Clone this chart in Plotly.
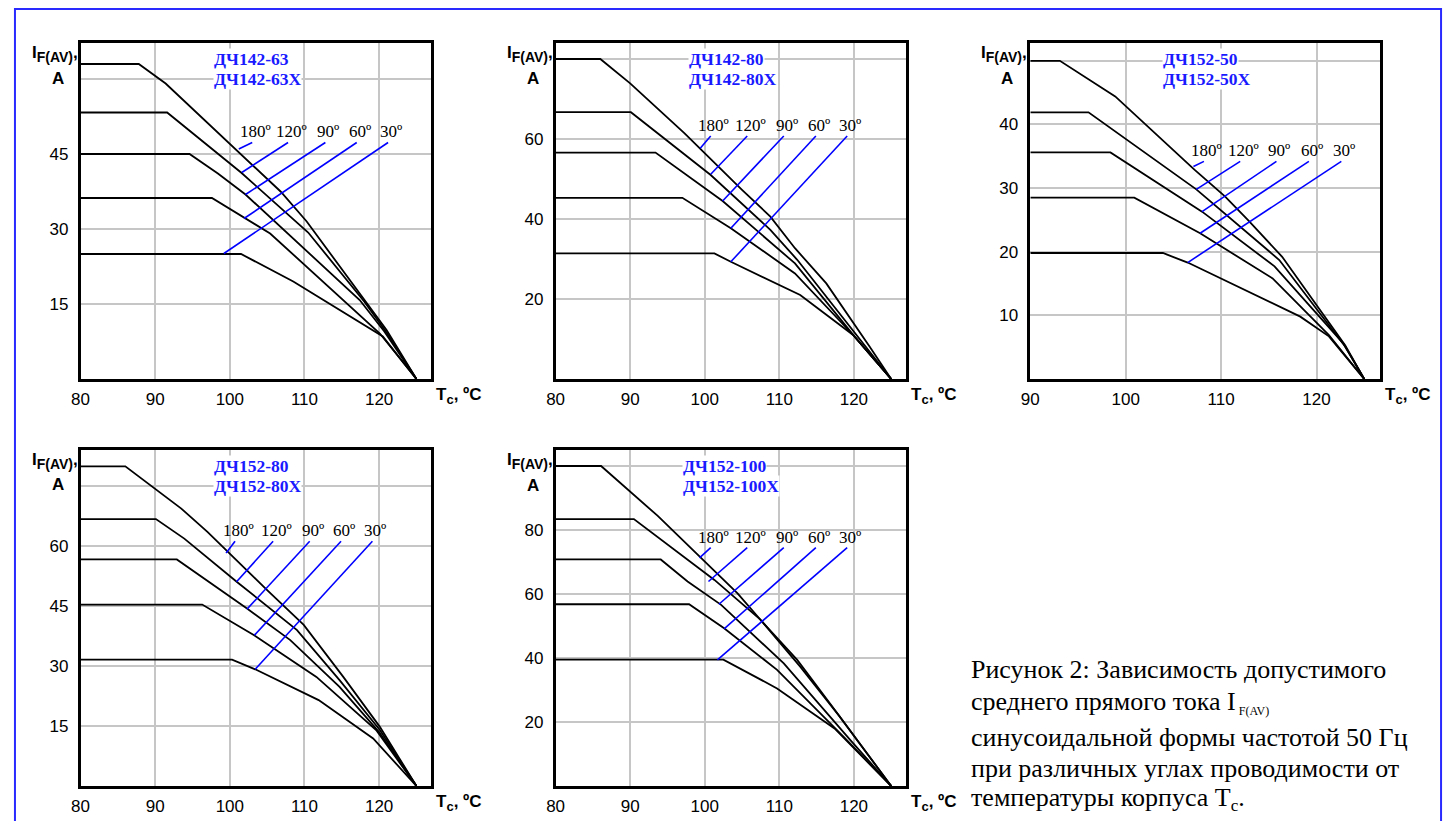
import plotly.graph_objects as go

W, H = 1449, 821

# ---------------- data ----------------
ANGLES = ["180º", "120º", "90º", "60º", "30º"]
X_TICKS_A = [80, 90, 100, 110, 120]
X_TICKS_B = [90, 100, 110, 120]

# Panel 1: ДЧ142-63
P1_T180 = [80, 87.8, 91.4, 98.8, 106.8, 110.3, 117.4, 121.0, 125]
P1_I180 = [63, 63, 59.1, 48.8, 37.5, 31.5, 17.1, 9.8, 0]
P1_T120 = [80, 91.6, 101.5, 107.0, 110.5, 118.0, 121.0, 125]
P1_I120 = [53.3, 53.3, 41.3, 34.0, 29.3, 15.5, 9.3, 0]
P1_T90 = [80, 94.6, 98.4, 102.1, 117.4, 120.7, 125]
P1_I90 = [45, 45, 41.1, 36.9, 15.8, 9.5, 0]
P1_T60 = [80, 97.6, 105.4, 120.1, 125]
P1_I60 = [36.2, 36.2, 29.1, 9.1, 0]
P1_T30 = [80, 101.5, 108.5, 120.5, 125]
P1_I30 = [25, 25, 19.5, 8.5, 0]
P1_Y_TICKS = [15, 30, 45]
P1_Y_GRID_EXTRA = [60]
P1_LEAD_T0 = [103.0, 107.8, 112.8, 117.0, 121.2]
P1_LEAD_I0 = [47.3, 47.3, 47.3, 47.3, 47.3]
P1_LEAD_T1 = [101.2, 101.6, 102.1, 101.9, 99.2]
P1_LEAD_I1 = [46.0, 41.3, 36.9, 32.1, 25.1]

# Panel 2: ДЧ142-80
P2_T180 = [80, 86.0, 90.0, 97.3, 105.0, 108.8, 112.1, 116.3, 122.1, 125]
P2_I180 = [80, 80, 73.9, 61.4, 47.3, 40.6, 32.7, 23.9, 8.1, 0]
P2_T120 = [80, 90.1, 100.8, 108.8, 112.4, 120.8, 125]
P2_I120 = [66.7, 66.7, 51.0, 37.3, 29.8, 9.8, 0]
P2_T90 = [80, 93.4, 102.4, 112.1, 120.1, 125]
P2_I90 = [56.6, 56.6, 44.5, 28.9, 10.6, 0]
P2_T60 = [80, 97.0, 103.5, 112.1, 119.9, 125]
P2_I60 = [45.3, 45.3, 37.7, 26.4, 11.0, 0]
P2_T30 = [80, 101.3, 103.5, 112.8, 119.9, 125]
P2_I30 = [31.4, 31.4, 29.3, 21.0, 11.0, 0]
P2_Y_TICKS = [20, 40, 60]
P2_Y_GRID_EXTRA = [80]
P2_LEAD_T0 = [100.8, 105.7, 110.6, 114.9, 119.1]
P2_LEAD_I0 = [60.75, 60.75, 60.75, 60.75, 60.75]
P2_LEAD_T1 = [99.4, 100.8, 102.4, 103.5, 103.5]
P2_LEAD_I1 = [57.7, 51.2, 44.5, 37.7, 29.3]

# Panel 3: ДЧ152-50
P3_T180 = [90, 93.1, 98.9, 101.9, 107.2, 110.4, 112.8, 116.4, 123.0, 125]
P3_I180 = [50, 50, 44.4, 40.2, 32.9, 28.7, 25.0, 19.2, 5.3, 0]
P3_T120 = [90, 96.1, 107.4, 116.1, 123.0, 125]
P3_I120 = [41.9, 41.9, 29.8, 18.7, 5.1, 0]
P3_T90 = [90, 98.4, 108.0, 115.6, 122.8, 125]
P3_I90 = [35.6, 35.6, 26.3, 17.7, 5.6, 0]
P3_T60 = [90, 100.9, 107.8, 115.4, 121.3, 125]
P3_I60 = [28.5, 28.5, 22.9, 15.8, 6.9, 0]
P3_T30 = [90, 103.9, 106.5, 118.3, 121.3, 125]
P3_I30 = [19.8, 19.8, 18.3, 9.8, 6.7, 0]
P3_Y_TICKS = [10, 20, 30, 40]
P3_Y_GRID_EXTRA = [50]
P3_LEAD_T0 = [108.2, 112.0, 115.8, 119.2, 122.6]
P3_LEAD_I0 = [34.2, 34.2, 34.2, 34.2, 34.2]
P3_LEAD_T1 = [107.1, 107.4, 108.0, 107.8, 106.5]
P3_LEAD_I1 = [33.4, 29.8, 26.3, 22.9, 18.3]

# Panel 4: ДЧ152-80
P4_T180 = [80, 86.0, 93.5, 97.0, 105.0, 109.9, 115.2, 120.1, 125]
P4_I180 = [80, 80, 69.4, 63.6, 49.0, 40.3, 27.3, 14.8, 0]
P4_T120 = [80, 90.1, 93.9, 101.0, 109.0, 114.7, 120.1, 125]
P4_I120 = [66.8, 66.8, 61.9, 51.0, 39.0, 26.5, 14.0, 0]
P4_T90 = [80, 92.9, 102.3, 108.1, 114.7, 120.0, 125]
P4_I90 = [56.7, 56.7, 44.4, 36.5, 24.8, 13.5, 0]
P4_T60 = [80, 96.3, 103.2, 111.6, 119.6, 125]
P4_I60 = [45.4, 45.4, 37.8, 27.3, 14.0, 0]
P4_T30 = [80, 100.3, 103.4, 111.9, 119.2, 125]
P4_I30 = [31.6, 31.6, 29.2, 21.5, 11.9, 0]
P4_Y_TICKS = [15, 30, 45, 60]
P4_Y_GRID_EXTRA = [75]
P4_LEAD_T0 = [100.7, 105.8, 110.7, 114.9, 119.1]
P4_LEAD_I0 = [61.25, 61.25, 61.25, 61.25, 61.25]
P4_LEAD_T1 = [99.5, 100.9, 102.3, 103.3, 103.4]
P4_LEAD_I1 = [58.3, 51.1, 44.25, 37.75, 29.2]

# Panel 5: ДЧ152-100
P5_T180 = [80, 86.1, 93.7, 101.7, 104.4, 107.9, 112.4, 116.8, 122.1, 125]
P5_I180 = [100, 100, 84.4, 66.5, 60.2, 50.8, 39.4, 25.8, 9.2, 0]
P5_T120 = [80, 90.5, 101.3, 107.5, 112.8, 118.0, 125]
P5_I120 = [83.4, 83.4, 64.4, 51.9, 37.3, 22.0, 0]
P5_T90 = [80, 94.1, 97.7, 102.2, 110.6, 119.5, 125]
P5_I90 = [70.8, 70.8, 63.9, 56.6, 38.3, 14.4, 0]
P5_T60 = [80, 97.9, 102.6, 109.7, 118.6, 125]
P5_I60 = [56.8, 56.8, 49.3, 36.3, 15.4, 0]
P5_T30 = [80, 102.5, 109.7, 117.4, 125]
P5_I30 = [39.5, 39.5, 30.5, 18.0, 0]
P5_Y_TICKS = [20, 40, 60, 80]
P5_Y_GRID_EXTRA = [100]
P5_LEAD_T0 = [100.8, 105.7, 110.6, 114.9, 119.1]
P5_LEAD_I0 = [74.5, 74.5, 74.5, 74.5, 74.5]
P5_LEAD_T1 = [99.3, 100.5, 101.9, 102.6, 101.7]
P5_LEAD_I1 = [71.3, 63.9, 56.8, 49.1, 39.4]

DEVICES = [("ДЧ142-63", "ДЧ142-63X"), ("ДЧ142-80", "ДЧ142-80X"), ("ДЧ152-50", "ДЧ152-50X"),
           ("ДЧ152-80", "ДЧ152-80X"), ("ДЧ152-100", "ДЧ152-100X")]

CAPTION_LINES = [
    "Рисунок 2: Зависимость допустимого",
    "среднего прямого тока I<sub><span style=\"font-size:12px\"> F(AV)</span></sub>",
    "синусоидальной формы частотой 50 Гц",
    "при различных углах проводимости от",
    "температуры корпуса T<sub><span style=\"font-size:17px\">c</span></sub>.",
]

# ---------------- layout / styling ----------------
SANS = "Liberation Sans, Arial, sans-serif"
SERIF = "Liberation Serif, Times New Roman, serif"
BLUE = "#0000FF"
LABEL_BLUE = "#1a1aff"
GRID = "#c6c6c6"

PANELS = [
    dict(box=(72, 43, 425, 379), xr=[80, 127], yr=[0, 67.2], xt=X_TICKS_A, yt=P1_Y_TICKS, yg=P1_Y_GRID_EXTRA,
         curves=[(P1_T180, P1_I180), (P1_T120, P1_I120), (P1_T90, P1_I90), (P1_T60, P1_I60), (P1_T30, P1_I30)],
         lead=(P1_LEAD_T0, P1_LEAD_I0, P1_LEAD_T1, P1_LEAD_I1), dev=(97.7, 62.0)),
    dict(box=(550, 43, 902.7, 379), xr=[80, 127], yr=[0, 84], xt=X_TICKS_A, yt=P2_Y_TICKS, yg=P2_Y_GRID_EXTRA,
         curves=[(P2_T180, P2_I180), (P2_T120, P2_I120), (P2_T90, P2_I90), (P2_T60, P2_I60), (P2_T30, P2_I30)],
         lead=(P2_LEAD_T0, P2_LEAD_I0, P2_LEAD_T1, P2_LEAD_I1), dev=(97.7, 77.5)),
    dict(box=(1027.7, 43, 1380, 379), xr=[90, 126.7], yr=[0, 52.8], xt=X_TICKS_B, yt=P3_Y_TICKS, yg=P3_Y_GRID_EXTRA,
         curves=[(P3_T180, P3_I180), (P3_T120, P3_I120), (P3_T90, P3_I90), (P3_T60, P3_I60), (P3_T30, P3_I30)],
         lead=(P3_LEAD_T0, P3_LEAD_I0, P3_LEAD_T1, P3_LEAD_I1), dev=(103.8, 48.7)),
    dict(box=(72, 449.5, 425, 786), xr=[80, 127], yr=[0, 84.2], xt=X_TICKS_A, yt=P4_Y_TICKS, yg=P4_Y_GRID_EXTRA,
         curves=[(P4_T180, P4_I180), (P4_T120, P4_I120), (P4_T90, P4_I90), (P4_T60, P4_I60), (P4_T30, P4_I30)],
         lead=(P4_LEAD_T0, P4_LEAD_I0, P4_LEAD_T1, P4_LEAD_I1), dev=(97.7, 77.6)),
    dict(box=(550, 450, 902.7, 786), xr=[80, 127], yr=[0, 105], xt=X_TICKS_A, yt=P5_Y_TICKS, yg=P5_Y_GRID_EXTRA,
         curves=[(P5_T180, P5_I180), (P5_T120, P5_I120), (P5_T90, P5_I90), (P5_T60, P5_I60), (P5_T30, P5_I30)],
         lead=(P5_LEAD_T0, P5_LEAD_I0, P5_LEAD_T1, P5_LEAD_I1), dev=(97.0, 97.0)),
]


def fx(p):
    return p / W


def fy(p):
    return 1 - p / H


fig = go.Figure()
annotations = []
layout_axes = {}

for i, P in enumerate(PANELS, start=1):
    sx = "" if i == 1 else str(i)
    xa, ya = "x" + sx, "y" + sx
    l, t, r, b = P["box"]
    axis_common = dict(showgrid=True, gridcolor=GRID, gridwidth=2, showline=True, mirror=True,
                       linecolor="black", linewidth=2.5, zeroline=False, ticks="", fixedrange=True,
                       tickfont=dict(family=SANS, size=17, color="black"))
    layout_axes["xaxis" + sx] = dict(axis_common, domain=[fx(l), fx(r)], range=P["xr"], tickvals=P["xt"],
                                     anchor=ya, ticklabelstandoff=3)
    layout_axes["yaxis" + sx] = dict(axis_common, domain=[fy(b), fy(t)], range=P["yr"], tickvals=P["yt"],
                                     anchor=xa, ticklabelstandoff=6,
                                     minor=dict(tickvals=P["yg"], showgrid=True, gridcolor=GRID,
                                                gridwidth=2, ticks=""))

    for T, I in P["curves"]:
        fig.add_trace(go.Scatter(x=T, y=I, mode="lines", xaxis=xa, yaxis=ya,
                                 line=dict(color="black", width=1.8), showlegend=False, hoverinfo="skip"))

    T0, I0, T1, I1 = P["lead"]
    lx, ly = [], []
    for k in range(len(T0)):
        lx += [T0[k], T1[k], None]
        ly += [I0[k], I1[k], None]
        annotations.append(dict(x=T0[k], y=I0[k], xref=xa, yref=ya, text=ANGLES[k], showarrow=False,
                                xanchor="center", yanchor="bottom", xshift=3, yshift=-1,
                                font=dict(family=SERIF, size=17, color="black")))
    fig.add_trace(go.Scatter(x=lx, y=ly, mode="lines", xaxis=xa, yaxis=ya,
                             line=dict(color=BLUE, width=1.6), showlegend=False, hoverinfo="skip"))

    for j, name in enumerate(DEVICES[i - 1]):
        annotations.append(dict(x=P["dev"][0], y=P["dev"][1], xref=xa, yref=ya,
                                text="<b>%s</b>" % name, showarrow=False, align="left",
                                xanchor="left", yanchor="middle", yshift=10 - 20 * j,
                                bgcolor="white", borderpad=0,
                                font=dict(family=SERIF, size=17.5, color=LABEL_BLUE)))

    # y-axis title
    annotations.append(dict(x=fx(l - 1), y=fy(t - 2), xref="paper", yref="paper",
                            text="<b>I<sub><span style=\"font-size:14px\">F(AV)</span></sub>,</b>",
                            showarrow=False, xanchor="right", yanchor="top",
                            font=dict(family=SANS, size=17, color="black")))
    annotations.append(dict(x=fx(l - 23), y=fy(t + 35), xref="paper", yref="paper", text="<b>A</b>",
                            showarrow=False, xanchor="center", yanchor="middle",
                            font=dict(family=SANS, size=17, color="black")))
    # x-axis title
    annotations.append(dict(x=fx(r + 3), y=fy(b + 17), xref="paper", yref="paper",
                            text="<b>T<sub><span style=\"font-size:13px\">c</span></sub>, ºC</b>",
                            showarrow=False, xanchor="left", yanchor="middle",
                            font=dict(family=SANS, size=17, color="black")))

# caption
cap_y = [669, 702, 737, 768, 799]
for k, line in enumerate(CAPTION_LINES):
    annotations.append(dict(x=fx(966), y=fy(cap_y[k]), xref="paper", yref="paper", text=line,
                            showarrow=False, xanchor="left", yanchor="middle",
                            font=dict(family=SERIF, size=26, color="black")))

shapes = [dict(type="rect", xref="paper", yref="paper", x0=fx(6), x1=fx(1441), y0=-0.05, y1=fy(9),
               line=dict(color="#2a2aff", width=2), layer="below")]

fig.update_layout(width=W, height=H, margin=dict(l=0, r=0, t=0, b=0), paper_bgcolor="white",
                  plot_bgcolor="white", showlegend=False, annotations=annotations, shapes=shapes,
                  **layout_axes)

fig.write_html("out.html", config={"displayModeBar": False},
               post_script="document.body.style.margin='0';document.body.style.overflow='hidden';")
